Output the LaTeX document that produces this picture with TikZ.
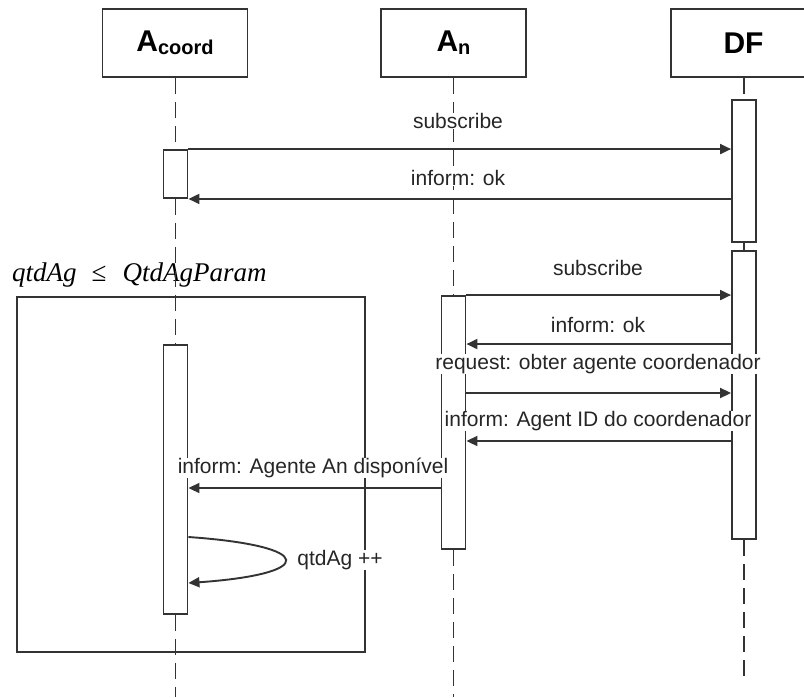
\documentclass[tikz,border=0pt]{standalone}
\usepackage{fontspec}
\setmainfont{Liberation Sans}
\newfontfamily\guardfont{Liberation Serif}
\usetikzlibrary{arrows.meta}

\begin{document}
\begin{tikzpicture}[x=1pt,y=-1pt,
  ln/.style={line width=1.9pt, draw=black!80},
  head/.style={ln, fill=white, minimum width=145pt, minimum height=68pt, inner sep=0pt,
    font=\fontsize{30}{30}\selectfont\bfseries},
  act/.style={ln, fill=white, minimum width=24pt, inner sep=0pt},
  life/.style={ln, dash pattern=on 16pt off 8pt},
  msg/.style={ln, -{Triangle[length=11pt,width=10pt]}},
  lbl/.style={fill=white, inner sep=0.5pt, text=black!85, font=\fontsize{21}{24}\selectfont},
]
\clip (0,0) rectangle (804,697);
\fill[white] (0,0) rectangle (804,697);

% participant heads
\node[head] (hC) at (175,43) {A\raisebox{-3pt}{\fontsize{20}{20}\selectfont coord}};
\node[head] (hN) at (453.5,43) {A\raisebox{-3pt}{\fontsize{20}{20}\selectfont n}};
\node[head] (hD) at (743.5,43) {DF};

% loop frame and its guard
\node[ln, draw, minimum width=348pt, minimum height=355pt, inner sep=0pt] (frame) at (191,474.5) {};
\node[anchor=base west, inner sep=0pt, font=\guardfont\fontsize{27}{27}\selectfont] (guard) at (12,281)
  {\itshape qtdAg\hspace{15pt}\upshape ≤\hspace{16pt}\itshape QtdAgParam};

% activation bars
\node[act, minimum height=48pt]  (aC1) at (175.5,174) {};
\node[act, minimum height=269pt] (aC2) at (175.5,479.5) {};
\node[act, minimum height=253pt] (aN1) at (453.5,422.5) {};
\node[act, minimum height=142pt] (aD1) at (744,171) {};
\node[act, minimum height=288pt] (aD2) at (744,395) {};

% lifelines
\coordinate (endC) at (175.5,697);
\coordinate (endN) at (453.5,697);
\coordinate (endD) at (744,683);
\draw[life] (hC.south -| aC1) -- (aC1.north);
\draw[life] (aC1.south) -- (aC2.north);
\draw[life] (aC2.south) -- (endC);
\draw[life] (hN.south -| aN1) -- (aN1.north);
\draw[life] (aN1.south) -- (endN);
\draw[life] (hD.south -| aD1) -- (aD1.north);
\draw[life] (aD1.south) -- (aD2.north);
\draw[life] (aD2.south) -- (endD);

% messages
\draw[msg] (aC1.north east) -- (aD1.west |- aC1.north);
\draw[msg] (aD1.west |- aC1.south) -- (aC1.south east);
\draw[msg] (aN1.north east) -- (aD2.west |- aN1.north);
\draw[msg] (aD2.west |- aC2.north) -- (aN1.east |- aC2.north);
\draw[msg] (aN1.east |- 0,393) -- (aD2.west |- 0,393);
\draw[msg] (aD2.west |- 0,441) -- (aN1.east |- 0,441);
\draw[msg] (aN1.west |- 0,488) -- (aC2.east |- 0,488);
\draw[msg] (aC2.east |- 0,537) .. controls (317,546) and (317,574) .. (aC2.east |- 0,583);

% message labels
\node[lbl] (m1) at (458,121) {subscribe};
\node[lbl] (m2) at (458,178) {inform: ok};
\node[lbl] (m3) at (598,268) {subscribe};
\node[lbl] (m4) at (598,325) {inform: ok};
\node[lbl] (m5) at (598,364) {request: obter agente coordenador};
\node[lbl] (m6) at (598,421) {inform: Agent ID do coordenador};
\node[lbl] (m7) at (313,468) {inform: Agente An disponível};
\node[lbl] (m8) at (340,560) {qtdAg ++};
\end{tikzpicture}
\end{document}
